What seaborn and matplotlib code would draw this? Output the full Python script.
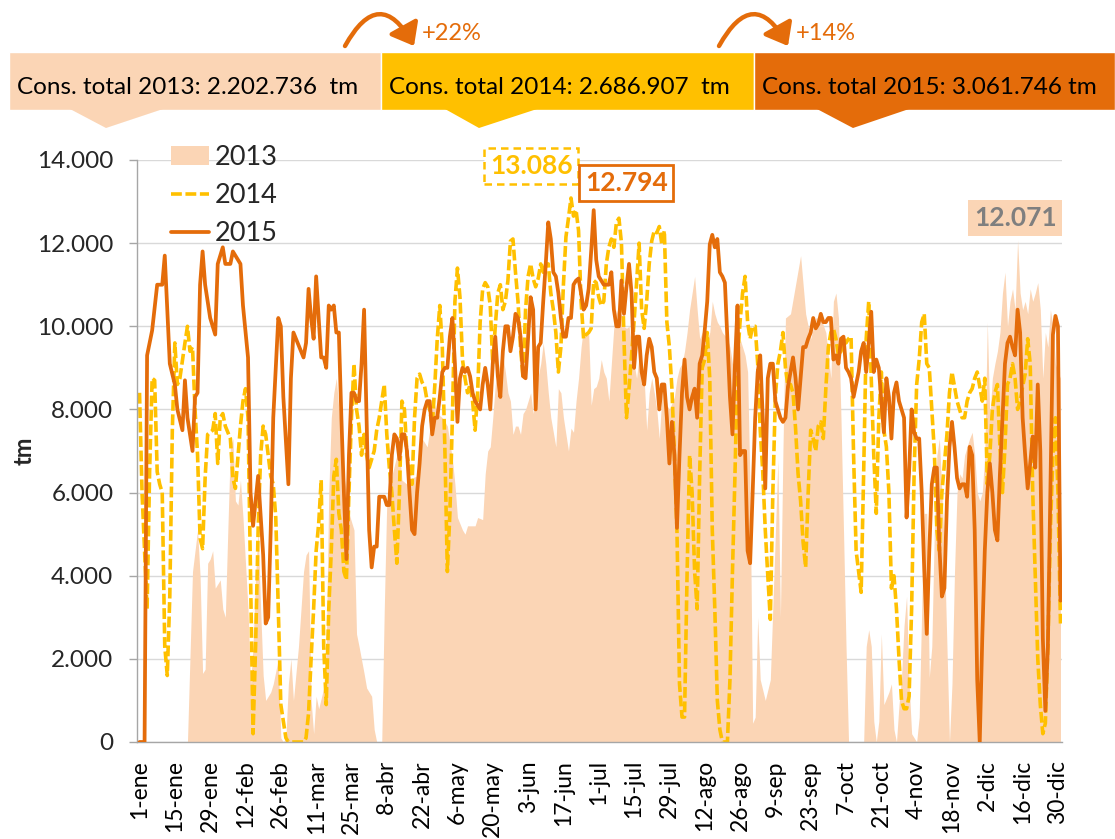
import matplotlib
matplotlib.use("Agg")
import matplotlib.pyplot as plt
from matplotlib.patches import Rectangle, Polygon, FancyArrowPatch, Patch
from matplotlib.lines import Line2D
from matplotlib.ticker import FuncFormatter
import seaborn as sns
import pandas as pd

sns.set_theme(style="white")
plt.rcParams['font.family'] = ['Lato', 'DejaVu Sans']

# daily consumption (tm), (day of year, value)
pts13 = [(0, 0), (19, 0), (21, 4100), (23, 5100), (24, 4000), (25, 1650), (26, 1750), (27, 4300), (28, 4400), (29, 4600),
         (30, 3700), (32, 3900), (33, 3200), (34, 3000), (35, 5100), (36, 7100), (37, 7300), (38, 5800), (39, 5700), (40, 6300),
         (41, 5400), (43, 3200), (44, 1400), (45, 2300), (46, 4000), (47, 5100), (48, 3200), (49, 1600), (50, 1000), (52, 1200),
         (53, 1400), (55, 2000), (56, 100), (57, 0), (58, 100), (59, 1400), (60, 2000), (61, 1000), (63, 2300), (65, 4100),
         (66, 4500), (67, 4600), (68, 1000), (69, 200), (70, 1100), (71, 800), (73, 1300), (74, 2300), (75, 6000), (76, 7800),
         (77, 8400), (78, 8750), (79, 8000), (81, 6400), (82, 6000), (83, 5500), (85, 5100), (86, 2600), (87, 2300), (89, 1650),
         (90, 1300), (92, 1100), (93, 300), (94, 0), (96, 0), (97, 3200), (98, 5800), (99, 6200), (100, 6400), (102, 6900),
         (103, 7000), (104, 6300), (106, 6200), (108, 6350), (110, 6400), (111, 6500), (112, 7300), (114, 7100), (115, 7500), (116, 8300),
         (118, 7900), (120, 7800), (122, 7600), (124, 6800), (125, 6200), (126, 5400), (128, 5100), (129, 5000), (130, 5200), (133, 5200),
         (134, 5400), (136, 5350), (137, 6450), (138, 7000), (139, 7100), (140, 7800), (141, 8600), (143, 9200), (144, 9300), (145, 8900),
         (146, 8400), (147, 8200), (148, 7400), (149, 7600), (150, 7600), (151, 7400), (152, 7900), (153, 8000), (154, 8200), (155, 8400),
         (156, 7900), (157, 8500), (159, 9100), (160, 9600), (161, 9100), (162, 8400), (163, 7800), (165, 7100), (166, 8500), (167, 8400),
         (168, 7800), (169, 7400), (170, 7000), (171, 7550), (172, 7450), (173, 8200), (174, 8750), (175, 9500), (176, 10000), (177, 9750),
         (178, 9850), (179, 8100), (180, 8500), (181, 8550), (182, 8750), (183, 9200), (184, 8900), (185, 8750), (186, 8200), (187, 9100),
         (188, 10000), (189, 10400), (190, 10200), (191, 10300), (192, 10000), (193, 9950), (194, 10000), (196, 9100), (197, 8750), (198, 9300),
         (200, 8750), (201, 7500), (202, 8400), (203, 8750), (204, 8400), (205, 8000), (206, 7300), (207, 8300), (208, 8550), (209, 8100),
         (210, 8000), (212, 8300), (213, 8750), (214, 9000), (215, 9100), (216, 9400), (217, 9850), (218, 10400), (219, 10800), (220, 11200),
         (221, 10400), (222, 9700), (223, 9850), (224, 9950), (225, 9700), (226, 9850), (227, 10600), (228, 10300), (229, 10100), (230, 10000),
         (231, 9850), (233, 9700), (234, 9500), (235, 9100), (237, 9100), (238, 9700), (239, 9500), (240, 9300), (241, 8900), (242, 6000),
         (243, 450), (244, 600), (245, 3000), (246, 1500), (248, 1000), (250, 1500), (252, 5000), (253, 6800), (254, 3000), (255, 7000),
         (256, 10200), (258, 10300), (260, 11000), (262, 11700), (264, 10300), (266, 9700), (268, 10200), (270, 10200), (272, 9850), (274, 8750),
         (275, 10600), (276, 10800), (277, 10200), (278, 7800), (279, 5100), (280, 2300), (281, 0), (287, 0), (288, 2300), (289, 2700),
         (290, 2300), (291, 500), (292, 0), (293, 500), (294, 2600), (295, 900), (297, 1200), (298, 1400), (299, 300), (300, 0),
         (301, 900), (302, 1550), (303, 2800), (304, 3500), (305, 1400), (306, 200), (308, 0), (309, 600), (310, 3200), (311, 5500),
         (312, 5500), (313, 1550), (314, 2300), (315, 5100), (316, 6900), (317, 7300), (318, 6000), (319, 4600), (320, 2300), (321, 0),
         (322, 1400), (323, 4100), (324, 6000), (325, 6450), (326, 6350), (327, 6900), (328, 7100), (329, 7300), (330, 7450), (331, 6900),
         (332, 6000), (333, 5800), (334, 6000), (335, 6900), (336, 10100), (337, 7800), (338, 8750), (339, 9100), (340, 9400), (341, 9850),
         (342, 10800), (343, 11300), (344, 10000), (345, 10600), (346, 10900), (347, 10400), (348, 12071), (349, 10800), (350, 10400), (351, 10600),
         (352, 10300), (353, 10900), (354, 10600), (355, 10800), (356, 11050), (357, 10400), (358, 8750), (359, 9850), (360, 9500), (361, 10400),
         (362, 10000), (363, 9100), (364, 8900), (365, 8750)]

pts14 = [(0, 8400), (1, 6000), (3, 3200), (4, 6500), (5, 8750), (6, 8700), (7, 6500), (8, 6200), (9, 6000), (10, 2300),
         (11, 1600), (12, 3500), (13, 7500), (14, 9600), (15, 8600), (16, 8750), (18, 9600), (19, 10000), (20, 9400), (21, 9500),
         (22, 8000), (23, 6900), (24, 4900), (25, 4650), (26, 6350), (27, 7400), (29, 7500), (30, 7900), (31, 6700), (32, 7800),
         (33, 7900), (34, 7600), (36, 7300), (37, 6350), (38, 6100), (40, 7600), (41, 8200), (42, 8500), (43, 7800), (44, 4000),
         (45, 200), (46, 2300), (47, 5100), (48, 6900), (49, 7600), (50, 7400), (52, 6400), (53, 6200), (54, 5400), (55, 3200),
         (56, 900), (58, 100), (59, 0), (65, 0), (66, 100), (67, 700), (68, 2000), (69, 3200), (70, 4600), (71, 5250),
         (72, 6300), (73, 2300), (74, 900), (75, 3200), (76, 4600), (77, 6400), (78, 6800), (79, 5500), (80, 5100), (81, 4100),
         (82, 3900), (83, 6000), (84, 7800), (85, 9100), (86, 8000), (87, 7600), (88, 6900), (89, 7400), (90, 6900), (91, 6600),
         (92, 6800), (93, 7000), (94, 7500), (95, 7800), (96, 8200), (97, 8600), (98, 7400), (99, 6600), (100, 6000), (101, 5100),
         (102, 4300), (103, 6000), (104, 8200), (105, 8000), (106, 6900), (107, 6600), (108, 6200), (109, 7800), (110, 8750), (111, 8850),
         (112, 8650), (113, 8550), (114, 8200), (115, 8000), (116, 7600), (117, 8550), (118, 9700), (119, 10500), (120, 9500), (121, 7100),
         (122, 4100), (123, 5500), (124, 7800), (125, 10600), (126, 11400), (127, 10700), (128, 9200), (129, 8750), (130, 8400), (131, 8600),
         (132, 8200), (133, 7500), (134, 8400), (135, 10100), (136, 10900), (137, 11050), (138, 10950), (139, 10500), (140, 9100), (141, 10000),
         (142, 10800), (143, 11000), (144, 10400), (145, 10600), (146, 11100), (147, 12050), (148, 12100), (149, 11300), (150, 10600), (151, 9500),
         (152, 8750), (153, 10400), (154, 11200), (155, 11500), (156, 11150), (157, 10950), (158, 11150), (159, 11500), (160, 11300), (161, 11500),
         (162, 11500), (163, 10800), (164, 10400), (165, 9850), (166, 8900), (167, 9500), (168, 11000), (169, 12150), (170, 12600), (171, 13086),
         (172, 12650), (173, 12800), (174, 12300), (175, 10600), (176, 9700), (177, 9800), (178, 9850), (179, 9950), (180, 11100), (181, 11050),
         (182, 10700), (183, 10500), (184, 10600), (185, 11500), (186, 11900), (187, 12100), (188, 11900), (189, 12500), (190, 12600), (191, 12000),
         (192, 9700), (193, 7800), (194, 8500), (195, 9300), (196, 10100), (197, 11050), (198, 12000), (199, 10400), (200, 9950), (201, 10600),
         (202, 11500), (203, 12050), (204, 12300), (205, 12250), (206, 12400), (207, 11970), (208, 12300), (209, 10100), (210, 9500), (211, 8500),
         (212, 6900), (213, 5100), (214, 1400), (215, 600), (216, 600), (217, 4000), (218, 6900), (219, 6000), (220, 4100), (221, 3200),
         (222, 6450), (223, 9000), (224, 9200), (225, 9850), (226, 8750), (227, 5100), (228, 3200), (229, 1000), (230, 300), (231, 0),
         (233, 0), (234, 1500), (235, 4100), (236, 6450), (237, 9200), (238, 10100), (239, 10800), (240, 11200), (241, 10100), (242, 9700),
         (243, 10000), (244, 10000), (245, 9100), (246, 7500), (247, 6500), (248, 5100), (249, 4000), (250, 2950), (251, 6000), (252, 8300),
         (253, 9100), (254, 9400), (255, 9850), (256, 9000), (257, 8550), (258, 8600), (259, 8400), (260, 7550), (261, 6450), (262, 5800),
         (263, 4800), (264, 4200), (265, 6000), (266, 7500), (267, 7300), (268, 7000), (269, 7600), (270, 7700), (271, 7300), (272, 8500),
         (273, 9500), (274, 9850), (275, 9950), (276, 9700), (277, 9300), (278, 9400), (279, 9700), (280, 9600), (281, 9700), (282, 9750),
         (283, 6900), (284, 4600), (285, 4100), (286, 3600), (287, 6500), (288, 9700), (289, 10600), (290, 8750), (291, 6900), (292, 5500),
         (293, 7800), (294, 8900), (295, 7500), (296, 7100), (297, 6000), (298, 3700), (299, 4000), (300, 3200), (301, 2000), (302, 1000),
         (303, 800), (304, 800), (305, 1100), (306, 3200), (307, 6500), (308, 8600), (309, 9200), (310, 10100), (311, 10300), (312, 9100),
         (313, 9000), (314, 8000), (315, 7000), (316, 5100), (317, 4600), (318, 6000), (319, 6700), (320, 7400), (321, 8400), (322, 8900),
         (323, 8550), (324, 8200), (325, 8000), (326, 7800), (327, 7800), (328, 8200), (329, 8400), (330, 8500), (331, 8750), (332, 8900),
         (333, 8550), (334, 8200), (335, 8750), (336, 6200), (337, 6900), (338, 8000), (339, 8400), (340, 8600), (341, 7100), (342, 6000),
         (343, 7100), (344, 8600), (345, 8750), (346, 9100), (347, 8750), (348, 8000), (349, 8200), (350, 8550), (351, 8850), (352, 9700),
         (353, 9100), (354, 6000), (355, 4000), (356, 2000), (357, 900), (358, 200), (359, 450), (360, 2300), (361, 5100), (362, 6900),
         (363, 7800), (364, 6000), (365, 2850)]

pts15 = [(0, 0), (2, 0), (3, 9300), (5, 9900), (7, 11000), (9, 11000), (10, 11700), (12, 9100), (14, 8600), (15, 8000),
         (17, 7500), (18, 8700), (19, 7800), (21, 7000), (22, 8300), (23, 8400), (24, 11000), (25, 11800), (26, 11000), (28, 10200),
         (30, 9800), (31, 11500), (33, 11900), (34, 11500), (36, 11500), (37, 11800), (40, 11500), (41, 10500), (43, 9250), (44, 6000),
         (45, 5200), (46, 5800), (47, 6400), (49, 4500), (50, 2850), (51, 3000), (52, 5100), (53, 7800), (55, 10200), (56, 10000),
         (57, 8300), (59, 6200), (60, 8750), (61, 9850), (64, 9400), (65, 9250), (66, 9600), (67, 10900), (68, 10200), (69, 9700),
         (70, 11200), (71, 10200), (72, 9250), (73, 9250), (74, 9000), (75, 10500), (76, 10400), (77, 10500), (78, 9850), (79, 9850),
         (80, 7800), (81, 6000), (82, 4400), (83, 6900), (84, 8400), (85, 8400), (86, 8200), (87, 8200), (88, 9100), (89, 10400),
         (90, 7800), (91, 5100), (92, 4200), (93, 4700), (94, 4700), (95, 5900), (97, 5900), (98, 5700), (99, 5700), (100, 6900),
         (101, 7400), (102, 7300), (103, 6800), (104, 7400), (105, 7400), (106, 7000), (107, 6000), (108, 5100), (109, 5000), (110, 6000),
         (111, 6700), (112, 7600), (113, 8000), (114, 8200), (115, 8200), (116, 7400), (117, 7800), (118, 7800), (119, 8300), (120, 8900),
         (121, 9000), (122, 9000), (123, 9750), (124, 10200), (125, 9100), (126, 7700), (127, 8750), (128, 9000), (129, 8900), (130, 9000),
         (131, 8800), (132, 8400), (133, 8200), (134, 8100), (135, 8000), (136, 8600), (137, 9000), (138, 8600), (139, 8000), (140, 9100),
         (141, 9750), (142, 8800), (143, 8300), (144, 9400), (145, 10000), (146, 10000), (147, 9400), (148, 9750), (149, 10300), (150, 10200),
         (151, 9750), (152, 8800), (153, 8750), (155, 10700), (156, 10400), (157, 8000), (158, 9500), (159, 9600), (160, 10600), (161, 11500),
         (162, 12500), (163, 12100), (164, 11300), (165, 11200), (166, 10800), (167, 10200), (168, 9750), (169, 9750), (170, 10200), (171, 10200),
         (172, 11000), (173, 11100), (174, 11150), (175, 10800), (176, 10400), (177, 10500), (178, 10900), (179, 11800), (180, 12794), (181, 11600),
         (182, 11200), (183, 11100), (184, 11000), (186, 11000), (187, 11300), (188, 10400), (189, 10000), (190, 10000), (191, 11100), (192, 10300),
         (193, 10950), (194, 11500), (195, 10800), (196, 9000), (197, 9750), (198, 9750), (199, 8900), (200, 8600), (201, 9300), (202, 9700),
         (203, 9500), (204, 8900), (205, 8750), (206, 8000), (207, 8600), (208, 8600), (209, 7800), (210, 6700), (211, 7700), (212, 6900),
         (213, 5150), (214, 6900), (215, 8400), (216, 9200), (217, 8300), (218, 8000), (219, 8300), (220, 8500), (221, 7800), (222, 9100),
         (223, 9300), (224, 9900), (225, 10600), (226, 11970), (227, 12200), (228, 11900), (229, 12100), (230, 11300), (231, 11200), (232, 11050),
         (233, 9700), (234, 8300), (235, 7400), (236, 9100), (237, 10500), (238, 6900), (239, 7000), (240, 7000), (241, 4600), (242, 4300),
         (243, 6000), (244, 7800), (245, 8900), (246, 9300), (247, 7800), (248, 6100), (249, 8750), (250, 9100), (251, 9100), (252, 8200),
         (253, 8000), (254, 7800), (255, 7700), (256, 7800), (257, 8550), (258, 8900), (259, 9250), (260, 8750), (261, 8000), (262, 8750),
         (263, 9500), (264, 9500), (265, 9700), (266, 9850), (267, 10200), (268, 9950), (269, 10050), (270, 10300), (271, 10100), (272, 10100),
         (273, 10200), (274, 10200), (275, 9200), (276, 9300), (277, 9100), (278, 9700), (279, 9750), (280, 9000), (281, 8900), (282, 8750),
         (283, 8300), (284, 8600), (285, 8900), (286, 9400), (287, 9600), (288, 8900), (289, 9600), (290, 10350), (291, 8900), (292, 9200),
         (293, 9000), (294, 8200), (295, 7450), (296, 8750), (297, 8300), (298, 7300), (299, 8400), (300, 8650), (301, 8200), (302, 8000),
         (303, 7800), (304, 5400), (305, 6500), (306, 8000), (307, 7450), (308, 7300), (309, 7300), (310, 6000), (311, 4150), (312, 2600),
         (313, 4600), (314, 6200), (315, 6600), (316, 6600), (317, 4700), (318, 3500), (319, 3700), (320, 5800), (321, 7100), (322, 7700),
         (323, 7100), (324, 6350), (325, 6100), (326, 6200), (327, 6200), (328, 5900), (329, 7100), (330, 6900), (331, 5100), (332, 1500),
         (333, 0), (334, 2500), (335, 4600), (336, 6000), (337, 6700), (338, 6000), (339, 5100), (340, 4850), (341, 6450), (342, 7800),
         (343, 9100), (344, 9600), (345, 9750), (346, 9500), (347, 9300), (348, 10400), (349, 9850), (350, 7800), (351, 6900), (352, 6100),
         (353, 6700), (354, 7350), (355, 6600), (356, 8600), (357, 7000), (358, 2500), (359, 750), (360, 2300), (361, 6000), (362, 9800),
         (363, 10250), (364, 10000), (365, 3400)]

years = ["2013", "2014", "2015"]
totals = [2202736, 2686907, 3061746]
xlabels = ["1-ene", "15-ene", "29-ene", "12-feb", "26-feb", "11-mar", "25-mar", "8-abr", "22-abr",
           "6-may", "20-may", "3-jun", "17-jun", "1-jul", "15-jul", "29-jul", "12-ago", "26-ago",
           "9-sep", "23-sep", "7-oct", "21-oct", "4-nov", "18-nov", "2-dic", "16-dic", "30-dic"]

C13, C14, C15 = "#FBD5B5", "#FFC000", "#E46C0A"
W, H = 1115, 839
DASH = (3.0, 1.0)


def dotfmt(v):
    return f"{int(round(v)):,}".replace(",", ".")


df13 = pd.DataFrame(pts13, columns=["day", "tm"])
df14 = pd.DataFrame(pts14, columns=["day", "tm"])
df15 = pd.DataFrame(pts15, columns=["day", "tm"])

fig = plt.figure(figsize=(W / 100, H / 100), dpi=100)
ax = fig.add_axes([137 / W, 1 - 742 / H, 925 / W, 582 / H])

ax.fill_between(df13["day"], df13["tm"], color=C13, linewidth=0, zorder=1)
sns.lineplot(data=df14, x="day", y="tm", ax=ax, color=C14, linewidth=2.6,
             estimator=None, zorder=2)
ax.lines[-1].set_dashes(DASH)
sns.lineplot(data=df15, x="day", y="tm", ax=ax, color=C15, linewidth=2.7,
             estimator=None, zorder=3)

ax.set_xlim(-1, 365.6)
ax.set_ylim(0, 14000)
ax.set_yticks(range(0, 14001, 2000))
ax.yaxis.set_major_formatter(FuncFormatter(lambda v, p: dotfmt(v)))
ax.set_xticks(range(0, 365, 14))
ax.set_xticklabels(xlabels, rotation=90)
ax.tick_params(axis="x", length=0, pad=13, labelsize=16.5, colors="black")
ax.tick_params(axis="y", length=6, width=1, color="#A6A6A6", pad=11, labelsize=17.5, left=True)
ax.grid(axis="y", color="#D9D9D9", linewidth=1)
ax.set_axisbelow(True)
for s in ["top", "right"]:
    ax.spines[s].set_visible(False)
for s in ["left", "bottom"]:
    ax.spines[s].set_color("#A6A6A6")
    ax.spines[s].set_linewidth(1)
ax.set_xlabel("")
ax.set_ylabel("tm", fontsize=17, fontweight="bold", labelpad=1)

handles = [Patch(facecolor=C13, edgecolor="none"),
           Line2D([], [], color=C14, lw=2.6, dashes=DASH),
           Line2D([], [], color=C15, lw=2.7)]
ax.legend(handles, years, loc="upper left", bbox_to_anchor=((171 - 137) / 925, (742 - 145) / 582),
          frameon=False, fontsize=19.5, handlelength=1.4, handletextpad=0.2,
          labelspacing=0.48, borderaxespad=0, borderpad=0)

# peak labels
pk13, pk14, pk15 = df13.loc[df13.tm.idxmax()], df14.loc[df14.tm.idxmax()], df15.loc[df15.tm.idxmax()]
ax.text(155.2, 13860, dotfmt(pk14.tm), color=C14, fontsize=19, fontweight="bold",
        ha="center", va="center", clip_on=False, zorder=5,
        bbox=dict(boxstyle="square,pad=0.22", fc="white", ec=C14, lw=1.8, ls=(0, (3, 2))))
ax.text(192.9, 13450, dotfmt(pk15.tm), color=C15, fontsize=19, fontweight="bold",
        ha="center", va="center", clip_on=False, zorder=5,
        bbox=dict(boxstyle="square,pad=0.22", fc="white", ec=C15, lw=2))
ax.text(347.1, 12600, dotfmt(pk13.tm), color="#7F7F7F", fontsize=19, fontweight="bold",
        ha="center", va="center", clip_on=False, zorder=5,
        bbox=dict(boxstyle="square,pad=0.22", fc=C13, ec="none"))

# header boxes (pixel coordinates)
ov = fig.add_axes([0, 0, 1, 1], zorder=-1)
ov.set_xlim(0, W)
ov.set_ylim(H, 0)
ov.axis("off")

boxes = [(9, 381, C13, (70, 163, 106)), (381, 754, C14, (445, 537, 479)), (754, 1115, C15, (817, 909, 853))]
seps = ["  ", "  ", " "]
for (x0, x1, c, tri), yr, tot, sp in zip(boxes, years, totals, seps):
    ov.add_patch(Rectangle((x0, 52), x1 - x0, 58, facecolor=c, edgecolor="white", lw=1))
    ov.add_patch(Polygon([(tri[0], 109), (tri[1], 109), (tri[2], 128)], closed=True, facecolor=c, edgecolor="none"))
    ov.text(x0 + 8, 87, f"Cons. total {yr}: {dotfmt(tot)}{sp}tm", fontsize=17.5, ha="left", va="center", color="black")

for (xa, xb), i in zip([(345, 414), (719, 788)], [1, 2]):
    pct = round((totals[i] / totals[i - 1] - 1) * 100)
    ov.add_patch(FancyArrowPatch((xa, 46), (xb, 46), connectionstyle="arc3,rad=-0.9",
                                 arrowstyle="-|>,head_length=0.7,head_width=0.55", mutation_scale=18,
                                 lw=3.2, color=C15, shrinkA=0, shrinkB=0))
    ov.text(xb + 8, 33, f"+{pct}%", fontsize=17, color=C15, ha="left", va="center")

fig.savefig("out.png", dpi=100)
